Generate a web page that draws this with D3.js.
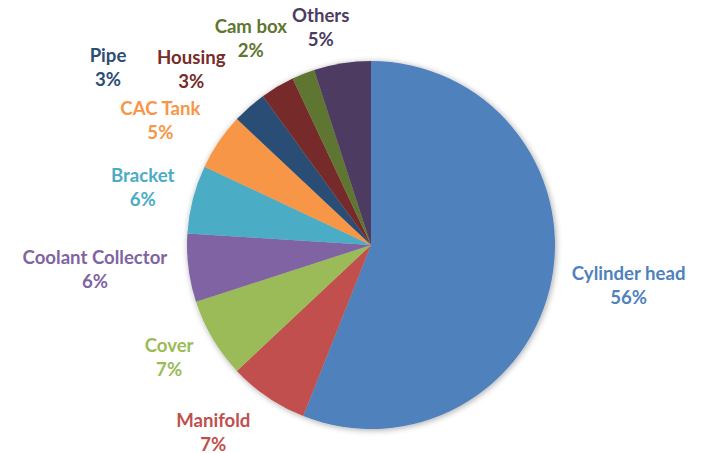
<!DOCTYPE html>
<html>
<head>
<meta charset="utf-8">
<script src="https://cdn.jsdelivr.net/npm/d3@7"></script>
<style>
  html, body { margin: 0; padding: 0; background: #fff; }
  svg { display: block; }
  .lbl { font-family: Lato, "Open Sans", sans-serif; font-weight: 700; }
</style>
</head>
<body>
<div id="chart"></div>
<script>
// Share of parts by category (percent)
const categories = ["Cylinder head", "Manifold", "Cover", "Coolant Collector", "Bracket",
                    "CAC Tank", "Pipe", "Housing", "Cam box", "Others"];
const shares = [56, 7, 7, 6, 6, 5, 3, 3, 2, 5];
const sliceColors = ["#4F81BD", "#C0504D", "#9BBB59", "#8064A2", "#4BACC6",
                     "#F79646", "#2C4D75", "#772C2A", "#5F7530", "#4D3B62"];

// Hand-tuned label nudges (px) relative to the point on the label ring
const labelNudge = [[17, -6], [-20, -16], [9, -13], [-33, -7], [9, 3],
                    [-8, 13], [-101, 6], [-55, 35], [-30, 21], [-12, 24]];

const W = 701, H = 453;
const cx = 371, cy = 245, R = 184, labelR = 245;

const svg = d3.select("#chart").append("svg")
  .attr("width", W).attr("height", H);

const defs = svg.append("defs");
const f = defs.append("filter").attr("id", "soft")
  .attr("x", "-20%").attr("y", "-20%").attr("width", "140%").attr("height", "140%");
f.append("feGaussianBlur").attr("in", "SourceAlpha").attr("stdDeviation", 3).attr("result", "b");
f.append("feOffset").attr("in", "b").attr("dx", 1).attr("dy", 1).attr("result", "o");
f.append("feComponentTransfer").attr("in", "o").attr("result", "s")
  .append("feFuncA").attr("type", "linear").attr("slope", 0.35);
const m = f.append("feMerge");
m.append("feMergeNode").attr("in", "s");
m.append("feMergeNode").attr("in", "SourceGraphic");

const data = categories.map((c, i) => ({ name: c, value: shares[i], color: sliceColors[i], i }));

const pie = d3.pie().sort(null).value(d => d.value);
const arcs = pie(data);
const arc = d3.arc().innerRadius(0).outerRadius(R);

const g = svg.append("g").attr("transform", `translate(${cx},${cy})`);

g.append("g").attr("filter", "url(#soft)")
  .selectAll("path").data(arcs).join("path")
  .attr("d", arc)
  .attr("fill", d => d.data.color);

const labels = g.append("g").selectAll("g").data(arcs).join("g")
  .attr("class", "lbl")
  .attr("transform", d => {
    const a = (d.startAngle + d.endAngle) / 2;
    const n = labelNudge[d.data.i];
    const x = labelR * Math.sin(a) + n[0];
    const y = -labelR * Math.cos(a) + n[1];
    return `translate(${x},${y})`;
  })
  .attr("fill", d => d.data.color)
  .attr("text-anchor", "middle")
  .style("font-size", "18.6px");

labels.append("text").attr("y", -5).text(d => d.data.name);
labels.append("text").attr("y", 19.2).text(d => d3.format(".0%")(d.data.value / 100));
</script>
</body>
</html>
